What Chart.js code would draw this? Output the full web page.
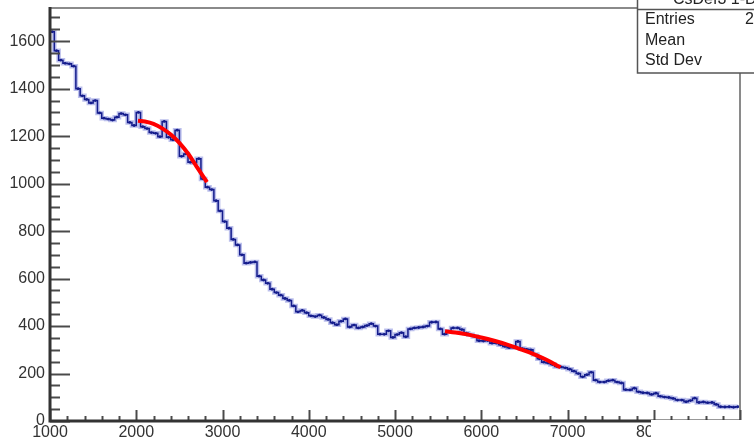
<!DOCTYPE html>
<html>
<head>
<meta charset="utf-8">
<script src="https://cdn.jsdelivr.net/npm/chart.js@4"></script>
<style>
  html, body { margin: 0; padding: 0; background: #fff; }
  canvas { display: block; }
</style>
</head>
<body>
<canvas id="histo" width="754" height="438"></canvas>
<script>
// histogram: 160 bins of width 50, from 1000 to 9000
const binStart = 1000;
const binWidth = 50;
const histValues = [
  1640, 1560, 1520, 1507, 1505, 1495, 1400, 1370, 1355, 1340,
  1350, 1298, 1276, 1272, 1268, 1280, 1295, 1290, 1258, 1245,
  1300, 1240, 1232, 1215, 1212, 1198, 1262, 1195, 1185, 1225,
  1115, 1125, 1090, 1088, 1105, 1020, 985, 975, 928, 885,
  840, 812, 765, 742, 700, 665, 668, 670, 610, 594,
  580, 555, 541, 530, 516, 508, 485, 460, 466, 456,
  443, 440, 446, 436, 428, 414, 406, 420, 430, 396,
  404, 392, 396, 402, 410, 400, 366, 365, 380, 352,
  364, 372, 355, 388, 392, 394, 396, 400, 416, 417,
  388, 366, 378, 392, 392, 385, 370, 363, 356, 338,
  337, 339, 328, 328, 321, 314, 309, 310, 335, 305,
  302, 300, 280, 262, 248, 244, 238, 230, 227, 224,
  218, 210, 200, 186, 195, 205, 172, 164, 164, 170,
  172, 164, 160, 132, 131, 138, 123, 119, 118, 112,
  117, 104, 101, 99, 95, 88, 88, 81, 86, 96,
  78, 80, 77, 78, 70, 60, 59, 60, 58, 60
];

// the two red fits
const fit1X = [2020, 2100, 2200, 2300, 2400, 2500, 2600, 2700, 2820];
const fit1Y = [1265, 1262, 1252, 1233, 1207, 1172, 1127, 1072, 1006];
const fit2X = [5580, 5700, 5850, 6000, 6150, 6300, 6450, 6600, 6750, 6920];
const fit2Y = [378, 373, 364, 352, 338, 322, 303, 283, 259, 226];

// axis labels
const xLabels = [1000, 2000, 3000, 4000, 5000, 6000, 7000, 8000];
const yLabels = [0, 200, 400, 600, 800, 1000, 1200, 1400, 1600];

const statsTitle = "CsDef3 1-D";
const statsRows = ["Entries", "Mean", "Std Dev"];

const histPoints = histValues.map((v, i) => ({ x: binStart + binWidth * (i + 0.5), y: v }));
const fit1Points = fit1X.map((x, i) => ({ x: x, y: fit1Y[i] }));
const fit2Points = fit2X.map((x, i) => ({ x: x, y: fit2Y[i] }));

const FONT = "'Liberation Sans', Arial, sans-serif";

// ROOT-like frame, inside ticks, stats box
const rootFrame = {
  id: "rootFrame",
  afterDraw(chart) {
    const ctx = chart.ctx;
    const a = chart.chartArea;
    const xs = chart.scales.x;
    const ys = chart.scales.y;
    ctx.save();

    // top + right frame
    ctx.strokeStyle = "#8a8a8a";
    ctx.lineWidth = 2;
    ctx.beginPath();
    ctx.moveTo(a.left, a.top);
    ctx.lineTo(a.right, a.top);
    ctx.lineTo(a.right, a.bottom);
    ctx.stroke();

    // y ticks (inside)
    ctx.strokeStyle = "#4a4a4a";
    ctx.lineWidth = 2;
    for (let v = 0; v <= 1700; v += 50) {
      const py = Math.round(ys.getPixelForValue(v)) + 0.5;
      const len = v % 200 === 0 ? 20 : 10;
      ctx.beginPath();
      ctx.moveTo(a.left, py);
      ctx.lineTo(a.left + len, py);
      ctx.stroke();
    }
    // x ticks (inside)
    for (let v = 1000; v <= 9000; v += 200) {
      const px = Math.round(xs.getPixelForValue(v)) + 0.5;
      const len = v % 1000 === 0 ? 11 : 5;
      ctx.beginPath();
      ctx.moveTo(px, a.bottom);
      ctx.lineTo(px, a.bottom - len);
      ctx.stroke();
    }

    // axis lines
    ctx.strokeStyle = "#333";
    ctx.lineWidth = 3;
    ctx.beginPath();
    ctx.moveTo(a.left, a.top - 1);
    ctx.lineTo(a.left, a.bottom);
    ctx.lineTo(a.right, a.bottom);
    ctx.stroke();

    // white patch bottom right
    ctx.fillStyle = "#fff";
    ctx.fillRect(651, 420, 103, 18);

    // stats box
    ctx.fillStyle = "#fff";
    ctx.fillRect(637, 0, 117, 73);
    ctx.strokeStyle = "#555";
    ctx.lineWidth = 1.5;
    ctx.beginPath();
    ctx.moveTo(637.5, 0);
    ctx.lineTo(637.5, 73);
    ctx.lineTo(754, 73);
    ctx.moveTo(637.5, 9.5);
    ctx.lineTo(754, 9.5);
    ctx.stroke();

    ctx.fillStyle = "#222";
    ctx.font = "16px " + FONT;
    ctx.textBaseline = "alphabetic";
    ctx.textAlign = "left";
    ctx.fillText(statsTitle, 673, 4);
    ctx.textBaseline = "middle";
    statsRows.forEach((t, i) => ctx.fillText(t, 645, 20 + i * 20.5));
    ctx.fillText("2", 745, 20);

    ctx.restore();
  }
};

new Chart(document.getElementById("histo"), {
  type: "line",
  data: {
    datasets: [
      {
        label: "fit1",
        data: fit1Points,
        borderColor: "rgb(255,0,0)",
        borderWidth: 4,
        pointRadius: 0,
        tension: 0.4,
        order: 0
      },
      {
        label: "fit2",
        data: fit2Points,
        borderColor: "rgb(255,0,0)",
        borderWidth: 4,
        pointRadius: 0,
        tension: 0.4,
        order: 0
      },
      {
        label: "histo",
        data: histPoints,
        stepped: "middle",
        borderColor: "rgb(20,28,140)",
        borderWidth: 1.5,
        pointRadius: 1.4,
        pointBackgroundColor: "rgb(20,28,140)",
        pointBorderWidth: 0,
        order: 1
      },
      {
        label: "histo halo",
        data: histPoints,
        stepped: "middle",
        borderColor: "rgba(80,90,205,0.38)",
        borderWidth: 4.5,
        pointRadius: 0,
        order: 2
      }
    ]
  },
  options: {
    responsive: false,
    animation: false,
    layout: { padding: { top: 8, right: 14, left: 0, bottom: 0 } },
    plugins: {
      legend: { display: false },
      tooltip: { enabled: false }
    },
    scales: {
      x: {
        type: "linear",
        min: 1000,
        max: 9000,
        grid: { display: false, drawTicks: false },
        border: { display: false },
        afterBuildTicks: s => { s.ticks = xLabels.map(v => ({ value: v })); },
        afterFit: s => {
          s.height = 17;
          s.paddingLeft = 0;
          s.paddingRight = 0;
        },
        ticks: {
          font: { family: FONT, size: 16 },
          color: "#333",
          padding: 2,
          maxRotation: 0,
          autoSkip: false,
          callback: v => String(v)
        }
      },
      y: {
        min: 0,
        max: 1740,
        grid: { display: false, drawTicks: false },
        border: { display: false },
        afterBuildTicks: s => { s.ticks = yLabels.map(v => ({ value: v })); },
        afterFit: s => {
          s.width = 50;
          s.paddingTop = 0;
          s.paddingBottom = 0;
        },
        ticks: {
          font: { family: FONT, size: 16 },
          color: "#333",
          padding: 5,
          callback: v => String(v)
        }
      }
    }
  },
  plugins: [rootFrame]
});
</script>
</body>
</html>
